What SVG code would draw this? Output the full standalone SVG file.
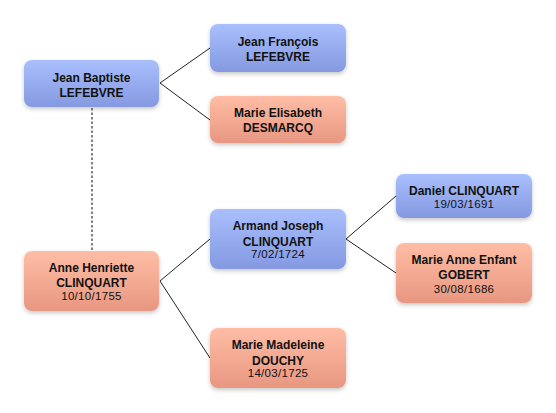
<svg xmlns="http://www.w3.org/2000/svg" width="556" height="413" viewBox="0 0 556 413">
<defs>
<linearGradient id="gb" x1="0" y1="0" x2="0" y2="1"><stop offset="0" stop-color="#a9bffd"/><stop offset="1" stop-color="#8499e0"/></linearGradient>
<linearGradient id="gp" x1="0" y1="0" x2="0" y2="1"><stop offset="0" stop-color="#ffbda5"/><stop offset="1" stop-color="#e89781"/></linearGradient>
<filter id="sh" x="-20%" y="-20%" width="140%" height="150%"><feDropShadow dx="0" dy="2" stdDeviation="2" flood-color="#000" flood-opacity="0.22"/></filter>
<style>
.b{fill:url(#gb);filter:url(#sh)}
.p{fill:url(#gp);filter:url(#sh)}
text{font-family:"Liberation Sans",Arial,sans-serif;text-anchor:middle;fill:#111}
.n{font-size:12px;font-weight:bold}
.d{font-size:11.5px;letter-spacing:0.3px}
.c{stroke:#222;stroke-width:1;fill:none}
.dash{stroke:#777;stroke-width:1.8;stroke-dasharray:2.5,2;fill:none}
</style>
</defs>
<rect width="556" height="413" fill="#fff"/>
<g id="connectors">
<line class="dash" x1="92" y1="108" x2="92" y2="250"/>
<polyline class="c" points="210,48 160,83 210,120"/>
<polyline class="c" points="210,239 160,281 210,358"/>
<polyline class="c" points="396,196 346,239 396,273"/>
</g>
<g id="jean-baptiste"><rect class="b" x="24" y="60" width="135" height="47" rx="8"/><text class="n" x="91.5" y="82">Jean Baptiste</text><text class="n" x="91.5" y="97">LEFEBVRE</text></g>
<g id="jean-francois"><rect class="b" x="210" y="24" width="136" height="48" rx="8"/><text class="n" x="278" y="46">Jean François</text><text class="n" x="278" y="61">LEFEBVRE</text></g>
<g id="marie-elisabeth"><rect class="p" x="210" y="96" width="136" height="47" rx="8"/><text class="n" x="278" y="117">Marie Elisabeth</text><text class="n" x="278" y="132">DESMARCQ</text></g>
<g id="anne-henriette"><rect class="p" x="24" y="251" width="135" height="60" rx="8"/><text class="n" x="91.5" y="272">Anne Henriette</text><text class="n" x="91.5" y="287">CLINQUART</text><text class="d" x="91.5" y="300">10/10/1755</text></g>
<g id="armand-joseph"><rect class="b" x="210" y="209" width="136" height="60" rx="8"/><text class="n" x="278" y="230">Armand Joseph</text><text class="n" x="278" y="246">CLINQUART</text><text class="d" x="278" y="258">7/02/1724</text></g>
<g id="marie-madeleine"><rect class="p" x="210" y="328" width="136" height="60" rx="8"/><text class="n" x="278" y="349">Marie Madeleine</text><text class="n" x="278" y="365">DOUCHY</text><text class="d" x="278" y="377">14/03/1725</text></g>
<g id="daniel"><rect class="b" x="396" y="174" width="136" height="44" rx="8"/><text class="n" x="464" y="195">Daniel CLINQUART</text><text class="d" x="464" y="208">19/03/1691</text></g>
<g id="marie-anne-enfant"><rect class="p" x="396" y="243" width="136" height="60" rx="8"/><text class="n" x="464" y="264">Marie Anne Enfant</text><text class="n" x="464" y="279">GOBERT</text><text class="d" x="464" y="293">30/08/1686</text></g>
</svg>
